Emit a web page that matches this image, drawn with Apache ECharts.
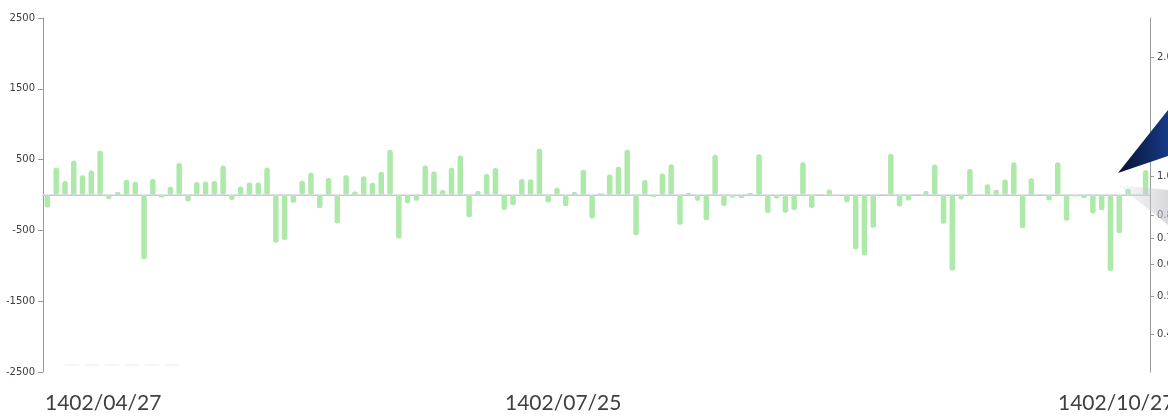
<!DOCTYPE html>
<html>
<head>
<meta charset="utf-8">
<script src="https://cdn.jsdelivr.net/npm/echarts@6/dist/echarts.min.js"></script>
<style>
html, body { margin: 0; padding: 0; background: #fff; }
#chart { width: 1168px; height: 417px; }
</style>
</head>
<body>
<div id="chart"></div>
<script>
var values = [
	-178, 390, 197, 486, 279, 346, 625, -58, 43, 216,
	188, -909, 226, -34, 115, 452, -91, 183, 192, 197,
	418, -72, 120, 178, 178, 390, -673, -635, -111, 202,
	313, -188, 240, -404, 279, 48, 265, 173, 327, 640,
	-616, -115, -82, 418, 332, 72, 385, 558, -313, 58,
	298, 380, -212, -144, 226, 221, 654, -106, 101, -159,
	43, 356, -332, 24, 289, 399, 640, -568, 212, -29,
	303, 433, -419, 29, -82, -356, 568, -154, -34, -43,
	29, 577, -255, -48, -250, -212, 462, -183, 10, 77,
	0, -101, -770, -856, -464, 12, 584, -161, -79, 12,
	55, 430, -406, -1065, -65, 368, 3, 152, 75, 219,
	464, -469, 238, 12, -79, 464, -363, -22, -41, -262,
	-214, -1075, -541, 89, 10, 349
];
var dates = ['1402/04/27', '1402/07/25', '1402/10/27'];
var leftTicks = [-2500, -1500, -500, 500, 1500, 2500];
var rightTicks = [0.4, 0.5, 0.6, 0.7, 0.8, 1.0, 2.0];

var categories = [];
for (var i = 0; i < values.length; i++) {
	categories.push(i + 1);
}

var myChart = echarts.init(document.getElementById('chart'));
var option = {
	animation : false,
	grid : {
		left : 43,
		right : 18,
		top : 18,
		bottom : 45,
		outerBoundsMode : 'none',
		containLabel : false
	},
	xAxis : {
		type : 'category',
		data : categories,
		boundaryGap : true,
		axisLine : { lineStyle : { color : '#9a9a9a' } },
		axisTick : { interval : 9, length : 5, lineStyle : { color : '#9a9a9a' } },
		axisLabel : { show : false }
	},
	yAxis : [ {
		type : 'value',
		min : -2500,
		max : 2500,
		interval : 500,
		axisLine : { show : true, lineStyle : { color : '#9a9a9a' } },
		axisTick : { show : true, length : 5, customValues : leftTicks, lineStyle : { color : '#9a9a9a' } },
		axisLabel : {
			customValues : leftTicks,
			color : '#3c3c48',
			fontSize : 10,
			margin : 8,
			fontFamily : 'DejaVu Sans',
			formatter : function(v) { return String(v); }
		},
		splitLine : { show : false }
	}, {
		type : 'log',
		min : 0.322,
		max : 2.51,
		position : 'right',
		axisLine : { show : true, lineStyle : { color : '#9a9a9a' } },
		axisTick : { show : true, length : 4, customValues : rightTicks, lineStyle : { color : '#9a9a9a' } },
		axisLabel : {
			customValues : rightTicks,
			color : '#3c3c48',
			fontSize : 10,
			margin : 7,
			fontFamily : 'DejaVu Sans',
			formatter : function(v) { return Number(v).toFixed(1); }
		},
		splitLine : { show : false }
	} ],
	series : [ {
		type : 'bar',
		data : values,
		barWidth : 5.5,
		itemStyle : { color : '#ade9a9', borderRadius : 2.5 },
		markLine : {
			silent : true,
			symbol : 'none',
			label : { show : false },
			lineStyle : { color : '#d9d9e6', width : 1.5, type : 'solid' },
			data : [ { yAxis : 0 } ]
		}
	} ],
	graphic : [ {
		type : 'line',
		shape : { x1 : 65, y1 : 365, x2 : 183, y2 : 365 },
		style : { stroke : '#ececec', lineWidth : 1, lineDash : [ 14, 6 ] }
	}, {
		type : 'polygon',
		z : 100,
		shape : { points : [ [ 1118, 185 ], [ 1168, 190 ], [ 1168, 225 ] ] },
		style : {
			fill : new echarts.graphic.LinearGradient(0, 0, 1, 0, [
				{ offset : 0, color : 'rgba(220,220,226,0.2)' },
				{ offset : 1, color : 'rgba(190,190,200,0.6)' }
			])
		}
	}, {
		type : 'polygon',
		z : 101,
		shape : { points : [ [ 1118, 173 ], [ 1168, 110 ], [ 1168, 156 ] ] },
		style : {
			fill : new echarts.graphic.LinearGradient(0, 0, 1, 0, [
				{ offset : 0, color : '#06122e' },
				{ offset : 1, color : '#163a86' }
			])
		}
	}, {
		type : 'text',
		left : 45,
		top : 393,
		style : { text : dates[0], fill : '#404040', fontSize : 21, fontFamily : 'Lato' }
	}, {
		type : 'text',
		left : 505,
		top : 393,
		style : { text : dates[1], fill : '#404040', fontSize : 21, fontFamily : 'Lato' }
	}, {
		type : 'text',
		left : 1058,
		top : 393,
		style : { text : dates[2], fill : '#404040', fontSize : 21, fontFamily : 'Lato' }
	} ]
};
myChart.setOption(option);
</script>
</body>
</html>
